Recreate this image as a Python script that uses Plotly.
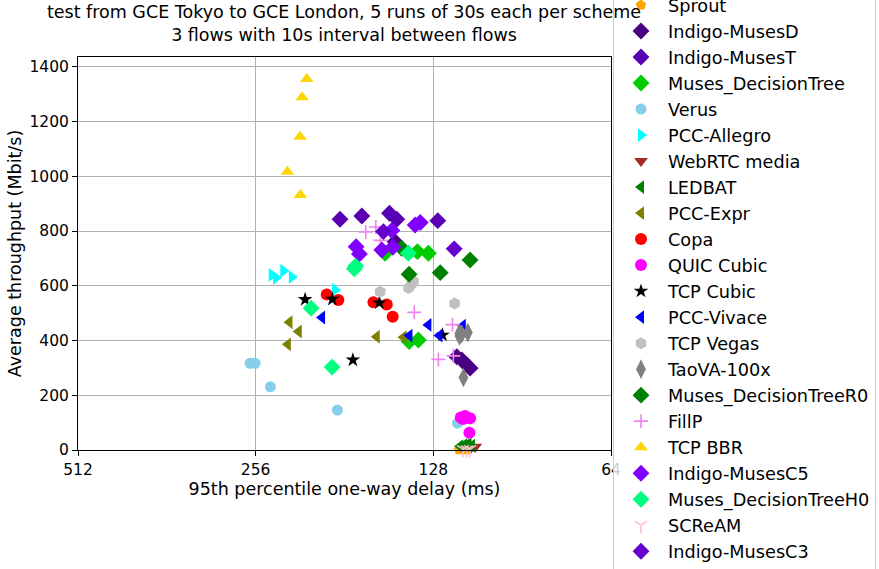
import math
import plotly.graph_objects as go

# ---- data (delay ms, throughput Mbit/s) ----
schemes = ["Sprout", "Indigo-MusesD", "Indigo-MusesT", "Muses_DecisionTree", "Verus",
           "PCC-Allegro", "WebRTC media", "LEDBAT", "PCC-Expr", "Copa", "QUIC Cubic",
           "TCP Cubic", "PCC-Vivace", "TCP Vegas", "TaoVA-100x", "Muses_DecisionTreeR0",
           "FillP", "TCP BBR", "Indigo-MusesC5", "Muses_DecisionTreeH0", "SCReAM",
           "Indigo-MusesC3"]

sprout_x = [115.8, 112.5]
sprout_y = [1, 1]
musesD_x = [116.8, 114.5, 112.3, 110.9, 148.6]
musesD_y = [341, 329, 311, 299, 761]
musesT_x = [184.2, 169.2, 151.9, 147.6, 125.8]
musesT_y = [843, 855, 865, 843, 838]
dt_x = [154.5, 136.2, 130.5, 140.7, 135.7]
dt_y = [719, 725, 719, 396, 402]
verus_x = [261.6, 256.6, 241.7, 186.1, 116.5]
verus_y = [317, 317, 231, 146, 98]
allegro_x = [240.4, 236.4, 229.8, 222.3, 187.8]
allegro_y = [640, 629, 655, 632, 585]
webrtc_x = [108.7, 110.5]
webrtc_y = [12, 8]
ledbat_x = [115.3, 113.5, 111.6, 110.1, 112.5]
ledbat_y = [14, 18, 19, 16, 17]
expr_x = [224.4, 216.4, 225.8, 159.6, 143.8]
expr_y = [467, 433, 386, 414, 412]
copa_x = [194.0, 185.4, 161.7, 153.5, 150.0]
copa_y = [568, 548, 540, 532, 487]
quic_x = [115.0, 113.1, 110.9, 111.2, 114.0]
quic_y = [119, 124, 116, 63, 113]
cubic_x = [211.1, 189.8, 158.0, 175.2, 123.5]
cubic_y = [550, 551, 538, 329, 420]
vivace_x = [197.6, 130.5, 140.5, 125.0, 114.1]
vivace_y = [484, 457, 418, 418, 454]
vegas_x = [157.5, 138.3, 141.0, 117.8, 139.5]
vegas_y = [578, 617, 592, 535, 605]
taova_x = [115.6, 111.9, 115.6, 114.6, 113.8]
taova_y = [427, 429, 417, 424, 265]
r0_x = [144.8, 140.7, 124.6, 110.9]
r0_y = [737, 642, 648, 694]
fillp_x = [166.6, 160.2, 157.3, 137.9, 118.8, 125.5, 118.4]
fillp_y = [797, 815, 766, 503, 458, 331, 344]
bbr_x = [209.7, 213.6, 215.3, 226.2, 215.0]
bbr_y = [1356, 1289, 1145, 1017, 932]
c5_x = [137.4, 134.7, 150.5, 173.0, 170.8, 156.5, 149.9]
c5_y = [822, 831, 802, 743, 716, 731, 741]
h0_x = [174.2, 173.3, 206.2, 190.0, 141.1]
h0_y = [662, 672, 518, 303, 719]
scream_x = [114.0, 112.3, 110.9]
scream_y = [2, 1, 2]
c3_x = [118.0, 155.5]
c3_y = [735, 798]

xs = [sprout_x, musesD_x, musesT_x, dt_x, verus_x, allegro_x, webrtc_x, ledbat_x,
      expr_x, copa_x, quic_x, cubic_x, vivace_x, vegas_x, taova_x, r0_x, fillp_x,
      bbr_x, c5_x, h0_x, scream_x, c3_x]
ys = [sprout_y, musesD_y, musesT_y, dt_y, verus_y, allegro_y, webrtc_y, ledbat_y,
      expr_y, copa_y, quic_y, cubic_y, vivace_y, vegas_y, taova_y, r0_y, fillp_y,
      bbr_y, c5_y, h0_y, scream_y, c3_y]

colors = ["#ffa500", "#4b0082", "#5a00b4", "#00cc00", "#87ceeb", "#00ffff", "#a52a2a",
          "#008000", "#808000", "#ff0000", "#ff00ff", "#000000", "#0000ff", "#c0c0c0",
          "#808080", "#008000", "#ee82ee", "#ffd700", "#7f00ff", "#00ff7f", "#ffc0cb",
          "#6600cc"]
symbols = ["pentagon", "diamond", "diamond", "diamond", "circle", "triangle-right",
           "triangle-down", "triangle-left", "triangle-left", "circle", "circle", "star",
           "triangle-left", "hexagon", "diamond-tall", "diamond", "cross-thin-open",
           "triangle-up", "diamond", "diamond", "y-down-open", "diamond"]
sizes = [11, 13, 13, 13, 11, 12, 12, 12, 12, 12, 12, 11, 12, 12, 14, 13, 10, 12, 13,
         13, 10, 13]

x_ticks = [512, 256, 128, 64]
y_ticks = [0, 200, 400, 600, 800, 1000, 1200, 1400]

FONT = "DejaVu Sans"
fig = go.Figure()
for name, x, y, c, s, sz in zip(schemes, xs, ys, colors, symbols, sizes):
    open_sym = s.endswith("-open")
    fig.add_trace(go.Scatter(
        x=x, y=y, mode="markers", name=name, cliponaxis=False,
        marker=dict(color=c, symbol=s, size=sz,
                    line=dict(width=1.6 if open_sym else 0, color=c)),
    ))

fig.update_layout(
    width=879, height=569,
    margin=dict(l=78, r=268, t=57, b=119, autoexpand=False),
    paper_bgcolor="white", plot_bgcolor="white",
    font=dict(family=FONT, size=17, color="black"),
    title=dict(text="test from GCE Tokyo to GCE London, 5 runs of 30s each per scheme<br>3 flows with 10s interval between flows",
               x=(344) / 879, xanchor="center", y=1 - 18 / 569, yanchor="top",
               font=dict(family=FONT, size=17.5, color="black")),
    legend=dict(x=(613 - 78) / 533, xanchor="left", y=1 + (57 + 14) / 393, yanchor="top",
                bgcolor="rgba(255,255,255,0.8)", bordercolor="#cccccc", borderwidth=1,
                font=dict(family=FONT, size=17.7, color="black"),
                itemwidth=44, maxheight=900, tracegroupgap=0),
    showlegend=True,
)
fig.update_xaxes(
    type="log", range=[math.log10(512), math.log10(64)],
    tickvals=x_ticks, ticktext=[str(v) for v in x_ticks],
    showgrid=True, gridcolor="#b0b0b0", gridwidth=1,
    showline=True, linecolor="black", linewidth=1, mirror=True,
    ticks="outside", ticklen=5, tickcolor="black",
    tickfont=dict(family=FONT, size=15.5),
    title=dict(text="95th percentile one-way delay (ms)", font=dict(family=FONT, size=17.5), standoff=4),
    zeroline=False,
)
fig.update_yaxes(
    range=[0, 1436], tickvals=y_ticks,
    showgrid=True, gridcolor="#b0b0b0", gridwidth=1,
    showline=True, linecolor="black", linewidth=1, mirror=True,
    ticks="outside", ticklen=5, tickcolor="black",
    tickfont=dict(family=FONT, size=15.5),
    title=dict(text="Average throughput (Mbit/s)", font=dict(family=FONT, size=17.5), standoff=3),
    zeroline=False,
)

fig.write_html("out.html", config={"displayModeBar": False},
               post_script="document.body.style.margin='0px';")
